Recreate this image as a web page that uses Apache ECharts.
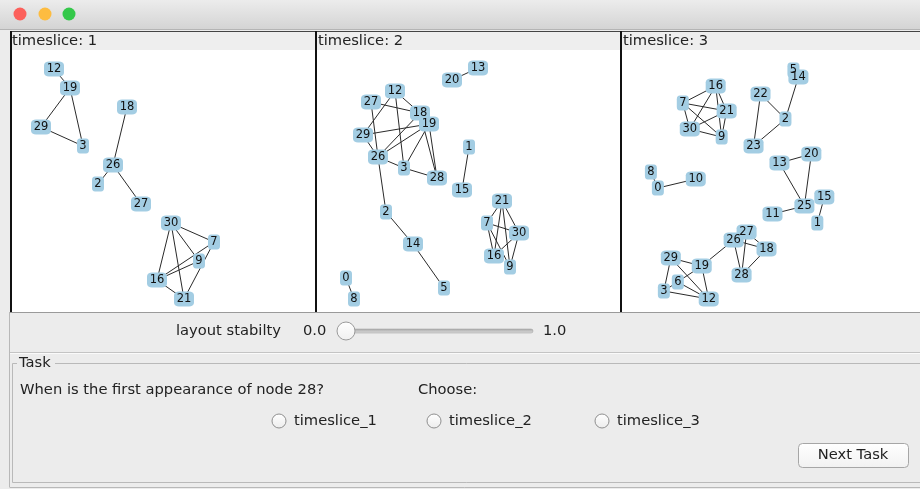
<!DOCTYPE html>
<html>
<head>
<meta charset="utf-8">
<script src="https://cdn.jsdelivr.net/npm/echarts@6/dist/echarts.min.js"></script>
<style>html,body{margin:0;padding:0;background:#ececec;}#c{width:920px;height:489px;}</style>
</head>
<body>
<div id="c"></div>
<script>
// ---- data ----
const panelTitles = ['timeslice: 1', 'timeslice: 2', 'timeslice: 3'];

// [node, x, y] in panel-local layout units
const nodes1 = [
  ['12',44,19],['19',60,38],['18',117,57],['29',31,77],['3',73,96],['26',103,115],
  ['2',88,134],['27',131,154],['30',161,173],['7',204,192],['9',189,211],['16',147,230],['21',174,249]
];
const edges1 = [
  ['12','19'],['19','29'],['19','3'],['29','3'],['18','26'],['26','2'],['26','27'],
  ['30','7'],['30','9'],['30','16'],['30','21'],['7','16'],['7','21'],['9','16'],['16','21']
];

const nodes2 = [
  ['13',162,18],['20',136,30],['12',79,41],['27',55,52],['18',104,63],['19',113,74],
  ['29',47,85],['1',153,97],['26',62,107],['3',88,118],['28',121,128],['15',146,140],
  ['21',186,151],['2',70,162],['7',171,173],['30',203,183],['14',97,194],['16',178,206],
  ['9',194,217],['0',30,228],['5',128,238],['8',38,249]
];
const edges2 = [
  ['20','13'],['1','15'],['2','26'],['2','14'],['14','5'],['0','8'],
  ['12','18'],['12','3'],['12','29'],['27','18'],['27','26'],['29','19'],['29','26'],
  ['26','18'],['26','19'],['26','3'],['19','3'],['19','28'],['18','28'],['3','28'],
  ['21','7'],['21','16'],['21','9'],['21','30'],['7','30'],['7','16'],['7','9'],['30','16'],['30','9']
];

const nodes3 = [
  ['14',178,27],['5',173,20],['16',95,36],['22',140,44],['7',62,53],['21',106,61],
  ['2',165,69],['30',69,79],['9',101,87],['23',133,96],['20',191,104],['13',159,113],
  ['8',30,122],['10',75,129],['0',37,138],['15',204,147],['25',184,156],['11',152,164],
  ['1',197,173],['27',126,182],['26',113,190],['18',146,199],['29',50,208],['19',81,216],
  ['28',121,225],['6',57,232],['3',43,241],['12',88,249]
];
const edges3 = [
  ['14','2'],['22','2'],['22','23'],['2','23'],['8','0'],['0','10'],
  ['13','20'],['13','25'],['20','25'],['11','25'],['15','1'],
  ['16','7'],['16','21'],['16','9'],['16','30'],['7','21'],['7','30'],['7','9'],['21','30'],['21','9'],['30','9'],
  ['29','19'],['29','3'],['29','12'],['19','3'],['19','12'],['6','12'],['3','12'],
  ['19','26'],['26','28'],['27','28'],['27','18'],['26','18'],['18','28']
];

const sliderLabel = 'layout stabilty';
const sliderMin = '0.0';
const sliderMax = '1.0';
const taskTitle = 'Task';
const question = 'When is the first appearance of node 28?';
const chooseLabel = 'Choose:';
const choices = ['timeslice_1', 'timeslice_2', 'timeslice_3'];
const buttonLabel = 'Next Task';

// ---- layout ----
const panelLeft = [10, 316, 621];
const panelW = [305, 305, 299];
const FONT = 'DejaVu Sans';
const FS = 14;
const SX = 1.05;
const nodeColor = '#a3cde3';

const allNodes = [nodes1, nodes2, nodes3];
const allEdges = [edges1, edges2, edges3];

const grids = [], xAxes = [], yAxes = [], series = [];
for (let i = 0; i < 3; i++) {
  grids.push({left: panelLeft[i], top: 50, width: 300, height: 260});
  xAxes.push({type: 'value', gridIndex: i, min: 0, max: 300, show: false});
  yAxes.push({type: 'value', gridIndex: i, min: 0, max: 260, inverse: true, show: false});
  series.push({
    type: 'graph', coordinateSystem: 'cartesian2d', xAxisIndex: i, yAxisIndex: i,
    symbol: 'roundRect', silent: true, animation: false,
    data: allNodes[i].map(n => ({
      name: n[0], value: [n[1], n[2]],
      symbolSize: n[0].length > 1 ? [20, 15] : [12, 15]
    })),
    links: allEdges[i].map(e => ({source: e[0], target: e[1]})),
    itemStyle: {color: nodeColor},
    lineStyle: {color: '#2a2a2a', width: 1, opacity: 1},
    label: {show: true, position: 'inside', color: '#111', fontSize: 11.5, fontFamily: FONT,
            formatter: p => p.name},
    emphasis: {disabled: true}
  });
}

function txt(x, y, s, extra) {
  return Object.assign({type: 'text', x: x, y: y, scaleX: SX,
    style: Object.assign({text: s, fill: '#222', fontSize: FS, fontFamily: FONT, verticalAlign: 'middle'}, extra || {}), z: 3});
}

const g = [];
// title bar
g.push({type: 'rect', shape: {x: 0, y: 0, width: 920, height: 29},
  style: {fill: {type: 'linear', x: 0, y: 0, x2: 0, y2: 1,
    colorStops: [{offset: 0, color: '#ececec'}, {offset: 1, color: '#d4d4d4'}]}}, z: 0});
g.push({type: 'line', shape: {x1: 0, y1: 29.5, x2: 920, y2: 29.5}, style: {stroke: '#b4b4b4', lineWidth: 1}, z: 0});
[['#fc605b', 20], ['#fdbc40', 45], ['#34c84a', 69]].forEach(c => {
  g.push({type: 'circle', shape: {cx: c[1], cy: 14, r: 6.5}, style: {fill: c[0]}, z: 0});
});
// panels
for (let i = 0; i < 3; i++) {
  g.push({type: 'rect', shape: {x: panelLeft[i], y: 31, width: panelW[i], height: 19}, style: {fill: '#eeeeee'}, z: 0});
  g.push({type: 'rect', shape: {x: panelLeft[i], y: 50, width: panelW[i], height: 262}, style: {fill: '#ffffff'}, z: 0});
  g.push(txt(panelLeft[i] + 2, 41, panelTitles[i]));
}
g.push({type: 'line', shape: {x1: 10, y1: 31.5, x2: 920, y2: 31.5}, style: {stroke: '#444', lineWidth: 1}, z: 1});
g.push({type: 'line', shape: {x1: 10, y1: 312.5, x2: 920, y2: 312.5}, style: {stroke: '#9a9a9a', lineWidth: 1}, z: 1});
[11, 316, 621].forEach(x => {
  g.push({type: 'line', shape: {x1: x, y1: 31, x2: x, y2: 312}, style: {stroke: '#111', lineWidth: 2}, z: 1});
});
// slider area
g.push(txt(176, 331, sliderLabel));
g.push(txt(303, 331, sliderMin));
g.push(txt(543, 331, sliderMax));
g.push({type: 'rect', shape: {x: 348, y: 329, width: 185, height: 4, r: 2},
  style: {fill: {type: 'linear', x: 0, y: 0, x2: 0, y2: 1,
    colorStops: [{offset: 0, color: '#a8a8a8'}, {offset: 1, color: '#dcdcdc'}]}, stroke: '#9d9d9d', lineWidth: 0.5}, z: 1});
g.push({type: 'circle', shape: {cx: 346, cy: 331, r: 9},
  style: {fill: {type: 'linear', x: 0, y: 0, x2: 0, y2: 1,
    colorStops: [{offset: 0, color: '#ffffff'}, {offset: 1, color: '#f0f0f0'}]}, stroke: '#9a9a9a', lineWidth: 1}, z: 2});
// separator
g.push({type: 'line', shape: {x1: 10, y1: 352.5, x2: 920, y2: 352.5}, style: {stroke: '#c4c4c4', lineWidth: 1}, z: 1});
g.push({type: 'line', shape: {x1: 10, y1: 353.5, x2: 920, y2: 353.5}, style: {stroke: '#fafafa', lineWidth: 1}, z: 1});
g.push({type: 'line', shape: {x1: 9.5, y1: 312, x2: 9.5, y2: 487}, style: {stroke: '#b8b8b8', lineWidth: 1}, z: 1});
g.push({type: 'line', shape: {x1: 9.5, y1: 487.5, x2: 920, y2: 487.5}, style: {stroke: '#b8b8b8', lineWidth: 1}, z: 1});
// task box
g.push({type: 'rect', shape: {x: 12.5, y: 363.5, width: 915, height: 119}, style: {fill: 'none', stroke: '#b9b9b9', lineWidth: 1}, z: 1});
g.push({type: 'rect', shape: {x: 17, y: 355, width: 38, height: 16}, style: {fill: '#ececec'}, z: 2});
g.push(txt(19, 363, taskTitle));
g.push(txt(20, 390, question));
g.push(txt(418, 390, chooseLabel));
const radioX = [279, 434, 602];
choices.forEach((c, i) => {
  g.push({type: 'circle', shape: {cx: radioX[i], cy: 421, r: 7},
    style: {fill: {type: 'linear', x: 0, y: 0, x2: 0, y2: 1,
      colorStops: [{offset: 0, color: '#ffffff'}, {offset: 1, color: '#ececec'}]}, stroke: '#8f8f8f', lineWidth: 1}, z: 1});
  g.push(txt(radioX[i] + 15, 421, c));
});
g.push({type: 'rect', shape: {x: 798.5, y: 443.5, width: 110, height: 24, r: 4},
  style: {fill: {type: 'linear', x: 0, y: 0, x2: 0, y2: 1,
    colorStops: [{offset: 0, color: '#ffffff'}, {offset: 1, color: '#f1f1f1'}]}, stroke: '#a6a6a6', lineWidth: 1}, z: 1});
g.push(txt(853, 455, buttonLabel, {align: 'center'}));

const chart = echarts.init(document.getElementById('c'), null, {renderer: 'canvas'});
chart.setOption({
  backgroundColor: '#ececec',
  animation: false,
  grid: grids, xAxis: xAxes, yAxis: yAxes,
  graphic: {elements: g},
  series: series
});
</script>
</body>
</html>
